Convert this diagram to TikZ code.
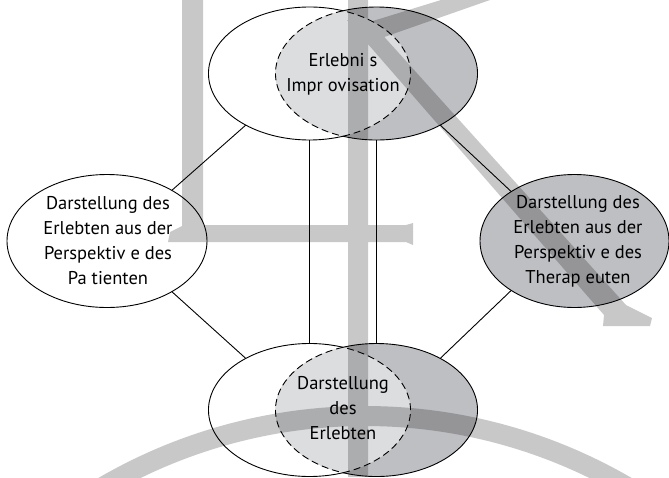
\documentclass[tikz,border=0pt]{standalone}
\usepackage{fontspec}
\setmainfont{PT Sans}
\usepackage{xcolor}
\definecolor{venngray}{HTML}{BEBFC3}
\definecolor{vennlight}{HTML}{DCDDDF}
\usetikzlibrary{shapes.geometric,calc}
\tikzset{
  ov/.style={ellipse, inner sep=0pt, outer sep=0pt,
             minimum width=202pt, minimum height=133pt},
  side/.style={ellipse, draw=black, line width=0.9pt, inner sep=0pt,
               outer sep=0pt, minimum height=133pt},
  txt/.style={align=center, font=\fontsize{18.5}{25}\selectfont, inner sep=0pt},
  ln/.style={draw=black, line width=0.9pt},
  dl/.style={ln, dash pattern=on 7pt off 4pt},
  wm/.style={fill=black, opacity=0.215},
}

\begin{document}
\begin{tikzpicture}[x=1pt, y=-1pt]
  \clip (0,0) rectangle (669,477);
  % top pair
  \node[ov, fill=white] (tl) at (309.5,73.5) {};
  \node[ov, fill=venngray] (tr) at (376.5,73.5) {};
  \begin{scope}
    \clip (tl.center) ellipse [x radius=101pt, y radius=66.5pt];
    \fill[vennlight] (tr.center) ellipse [x radius=101pt, y radius=66.5pt];
  \end{scope}
  \draw[dl] (tl.center) ++(-70.6:101pt and 66.5pt) arc[start angle=-70.6, end angle=70.6, x radius=101pt, y radius=66.5pt];
  \draw[dl] (tr.center) ++(109.4:101pt and 66.5pt) arc[start angle=109.4, end angle=250.6, x radius=101pt, y radius=66.5pt];
  \draw[ln] (tl.center) ++(70.6:101pt and 66.5pt) arc[start angle=70.6, end angle=289.4, x radius=101pt, y radius=66.5pt];
  \draw[ln] (tr.center) ++(-109.4:101pt and 66.5pt) arc[start angle=-109.4, end angle=109.4, x radius=101pt, y radius=66.5pt];
  \node[txt] (erl) at (343,74.5) {Erlebni s\\Impr ovisation};

  % bottom pair
  \node[ov, fill=white] (bl) at (309.5,410) {};
  \node[ov, fill=venngray] (br) at (376.5,410) {};
  \begin{scope}
    \clip (bl.center) ellipse [x radius=101pt, y radius=66.5pt];
    \fill[vennlight] (br.center) ellipse [x radius=101pt, y radius=66.5pt];
  \end{scope}
  \draw[dl] (bl.center) ++(-70.6:101pt and 66.5pt) arc[start angle=-70.6, end angle=70.6, x radius=101pt, y radius=66.5pt];
  \draw[dl] (br.center) ++(109.4:101pt and 66.5pt) arc[start angle=109.4, end angle=250.6, x radius=101pt, y radius=66.5pt];
  \draw[ln] (bl.center) ++(70.6:101pt and 66.5pt) arc[start angle=70.6, end angle=289.4, x radius=101pt, y radius=66.5pt];
  \draw[ln] (br.center) ++(-109.4:101pt and 66.5pt) arc[start angle=-109.4, end angle=109.4, x radius=101pt, y radius=66.5pt];
  \node[txt] (dar) at (343,408) {Darstellung\\des\\Erlebten};

  % sides
  \node[side, fill=white, minimum width=200pt] (pat) at (107,241) {};
  \node[side, fill=venngray, minimum width=189pt] (ther) at (574.5,241) {};
  \node[txt] (patt) at (108,241) {Darstellung des\\Erlebten aus der\\Perspektiv e des\\Pa tienten};
  \node[txt] (thert) at (578,241) {Darstellung des\\Erlebten aus der\\Perspektiv e des\\Therap euten};

  \draw[ln] (tl.south) -- (bl.north);
  \draw[ln] (tr.south) -- (br.north);
  \draw[ln] (pat.38) -- (tl.219);
  \draw[ln] (pat.-38) -- (bl.141);
  \draw[ln] (ther.142) -- (tr.-39);
  \draw[ln] (ther.-142) -- (br.39);

  % watermark
  \fill[wm]
    (182,0) -- (203,0) -- (203,225) -- (406,225) -- (413,223) -- (413,245)
      -- (406,242) -- (168,242) -- (170,232) -- (182,226) -- cycle
    (348,0) -- (368,0) -- (368,477) -- (348,477) -- cycle
    (363,24) -- (441,0) -- (490,0) -- (370,42) -- cycle
    (347,20) -- (369,20) -- (626,305) -- (652,318) -- (650,326)
      -- (603,326) -- (604,315) -- cycle
    ($(365,936)+(121:530pt)$) arc[start angle=121, end angle=59, radius=530pt]
      -- ($(365,936)+(59:510pt)$) arc[start angle=59, end angle=121, radius=510pt] -- cycle;
\end{tikzpicture}
\end{document}
